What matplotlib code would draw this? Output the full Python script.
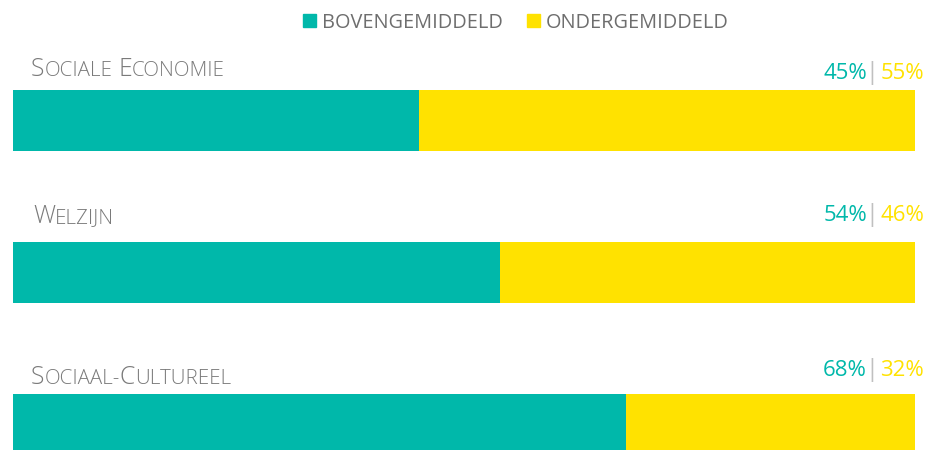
import matplotlib
matplotlib.use('Agg')
from matplotlib import pyplot as plt
from matplotlib.patches import Rectangle

# data ===========================
categories = ['Sociale Economie', 'Welzijn', 'Sociaal-Cultureel']
boven = [45, 54, 68]
onder = [55, 46, 32]
series_names = ['BOVENGEMIDDELD', 'ONDERGEMIDDELD']
# ================================

TEAL = '#00B8AA'
YELLOW = '#FFE200'
GREY = '#6E6E6E'
LABEL_GREY = '#7A7A7A'
SEP_GREY = '#C0C0C0'

plt.rcParams['font.family'] = ['Open Sans', 'DejaVu Sans']

W, H = 926, 450
fig = plt.figure(figsize=(W / 100, H / 100), dpi=100)


def fx(x):
    return x / W


def fy(y):
    return 1 - y / H


# bars: one row every 152 px, 61 px high
ax = fig.add_axes([13 / W, 0, 901.5 / W, 1])
ax.set_xlim(0, 100)
ax.set_ylim((H - 120.5) / 152, -120.5 / 152)
ax.axis('off')

ypos = list(range(len(categories)))
ax.barh(ypos, boven, height=61 / 152, color=TEAL, label=series_names[0])
ax.barh(ypos, onder, left=boven, height=61 / 152, color=YELLOW, label=series_names[1])

r = fig.canvas.get_renderer()


def smallcaps(x, y, s, big, small, color):
    # fake small caps: capitals at full size, the rest upper-cased and smaller
    runs = []
    for ch in s:
        if ch == ' ':
            runs.append((' ', None))
            continue
        size = big if ch.isupper() else small
        if runs and runs[-1][1] == size:
            runs[-1] = (runs[-1][0] + ch.upper(), size)
        else:
            runs.append((ch.upper(), size))
    for txt, size in runs:
        if size is None:
            x += small * 100 / 72 * 0.3
            continue
        t = fig.text(fx(x), fy(y), txt, fontsize=size, color=color,
                     va='baseline', ha='left', fontweight='light')
        x += t.get_window_extent(r).width


# legend
for i, (name, col) in enumerate(zip(series_names, [TEAL, YELLOW])):
    x0 = [303, 527][i]
    fig.patches.append(Rectangle((fx(x0), fy(27)), 13 / W, 13 / H,
                                 transform=fig.transFigure, color=col))
    fig.text(fx(x0 + 19), fy(28), name, fontsize=14.3, color=GREY,
             va='baseline', ha='left')

# category labels and percentages
label_base = [76, 223, 384]
label_x = [31, 33, 31]
pct_base = [79, 221, 376]
for i, cat in enumerate(categories):
    smallcaps(label_x[i], label_base[i], cat, 17.8, 14.8, LABEL_GREY)
    fig.text(fx(924), fy(pct_base[i]), f'{onder[i]}%', fontsize=16,
             color=YELLOW, va='baseline', ha='right')
    fig.text(fx(872), fy(pct_base[i]), '|', fontsize=17, color=SEP_GREY,
             va='baseline', ha='center')
    fig.text(fx(867), fy(pct_base[i]), f'{boven[i]}%', fontsize=16,
             color=TEAL, va='baseline', ha='right')

fig.savefig('out.png', dpi=100)
